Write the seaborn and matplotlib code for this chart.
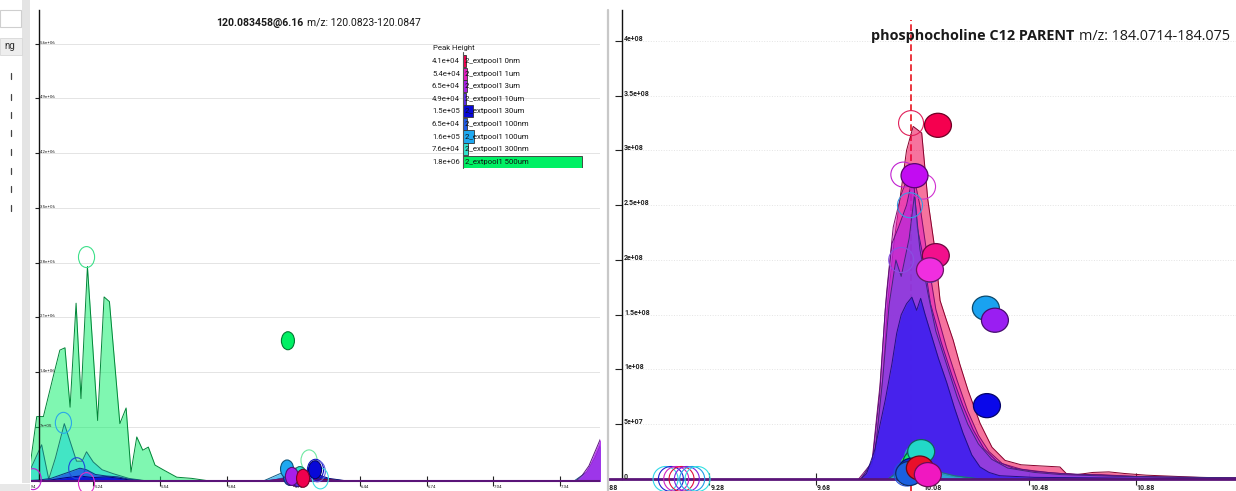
import matplotlib
matplotlib.use("Agg")
import numpy as np
import pandas as pd
import matplotlib.pyplot as plt
import seaborn as sns
from matplotlib.path import Path
from matplotlib.transforms import Affine2D, offset_copy
from matplotlib.patches import Rectangle
from matplotlib.lines import Line2D
from matplotlib import colors as mcolors
from matplotlib import font_manager as fm

# ---------------- samples ----------------
samples = ["2_extpool1 0nm", "2_extpool1 1um", "2_extpool1 3um", "2_extpool1 10um",
           "2_extpool1 30um", "2_extpool1 100nm", "2_extpool1 100um",
           "2_extpool1 300nm", "2_extpool1 500um"]
sample_colors = ["#f0004e", "#e21cc0", "#a81ee8", "#5a2ae6", "#0808d8",
                 "#1e5ae6", "#1ea8f0", "#2ee0cc", "#00f064"]

# ---------------- left panel: 120.083458@6.16 ----------------
left_title_bold = "120.083458@6.16"
left_title_rest = "m/z: 120.0823-120.0847"
left_peak_height = [4.1e4, 5.4e4, 6.5e4, 4.9e4, 1.5e5, 6.5e4, 1.6e5, 7.6e4, 1.8e6]
left_peak_rt = [6.184, 6.150, 6.134, 6.160, 6.238, 6.125, 6.112, 6.170, 6.116]
left_xticks = [4.94, 5.24, 5.54, 5.84, 6.14, 6.44, 6.74, 7.04, 7.34]
left_yticks = [7e5, 1.4e6, 2.1e6, 2.8e6, 3.5e6, 4.2e6, 4.9e6, 5.6e6]

# extracted ion traces (retention time, intensity)
l_500um_t = [4.94, 4.955, 4.986, 5.016, 5.06, 5.09, 5.113, 5.136, 5.163, 5.185, 5.214,
             5.26, 5.289, 5.313, 5.36, 5.388, 5.41, 5.436, 5.463, 5.488, 5.518, 5.555,
             5.616, 5.683, 5.78, 5.95, 6.05, 6.12, 6.2, 6.3, 6.4, 7.53]
l_500um_v = [0.10e6, 0.18e6, 0.83e6, 0.83e6, 1.34e6, 1.68e6, 1.71e6, 0.95e6, 2.28e6,
             1.06e6, 2.75e6, 0.78e6, 2.36e6, 2.30e6, 0.74e6, 0.94e6, 0.12e6, 0.57e6,
             0.40e6, 0.44e6, 0.21e6, 0.15e6, 0.055e6, 0.04e6, 0.0, 0.0, 0.02e6,
             0.05e6, 0.06e6, 0.02e6, 0.0, 0.0]
l_300nm_t = [4.94, 4.96, 5.008, 5.04, 5.07, 5.11, 5.165, 5.19, 5.21, 5.24, 5.28, 5.33,
             5.40, 5.50, 6.05, 6.15, 6.22, 6.3, 6.4, 7.53]
l_300nm_v = [0.10e6, 0.17e6, 0.47e6, 0.03e6, 0.30e6, 0.74e6, 0.26e6, 0.26e6, 0.38e6,
             0.25e6, 0.15e6, 0.10e6, 0.04e6, 0.0, 0.0, 0.05e6, 0.07e6, 0.03e6, 0.0, 0.0]
l_100nm_t = [4.94, 5.0, 5.05, 5.1, 5.15, 5.18, 5.21, 5.25, 5.3, 5.35, 5.4, 5.5, 6.02,
             6.1, 6.13, 6.2, 6.3, 6.4, 7.53]
l_100nm_v = [0.01e6, 0.02e6, 0.04e6, 0.09e6, 0.14e6, 0.17e6, 0.15e6, 0.09e6, 0.07e6,
             0.06e6, 0.03e6, 0.0, 0.0, 0.05e6, 0.06e6, 0.04e6, 0.01e6, 0.0, 0.0]
l_30um_t = [4.94, 5.05, 5.12, 5.18, 5.24, 5.3, 5.36, 5.42, 5.5, 6.05, 6.15, 6.24,
            6.3, 6.4, 7.53]
l_30um_v = [0.0, 0.02e6, 0.05e6, 0.07e6, 0.05e6, 0.06e6, 0.04e6, 0.01e6, 0.0, 0.0,
            0.06e6, 0.10e6, 0.04e6, 0.0, 0.0]
l_100um_t = [4.94, 6.0, 6.08, 6.11, 6.18, 6.28, 6.4, 7.40, 7.46, 7.50, 7.53]
l_100um_v = [0.0, 0.0, 0.10e6, 0.14e6, 0.08e6, 0.03e6, 0.0, 0.0, 0.12e6, 0.32e6, 0.52e6]
l_3um_t = [4.94, 6.0, 6.1, 6.13, 6.2, 6.3, 6.4, 7.41, 7.44, 7.47, 7.50, 7.53]
l_3um_v = [0.0, 0.0, 0.04e6, 0.06e6, 0.05e6, 0.02e6, 0.0, 0.0, 0.08e6, 0.20e6,
           0.40e6, 0.60e6]
l_10um_t = [4.94, 6.02, 6.12, 6.17, 6.25, 6.35, 7.53]
l_10um_v = [0.0, 0.0, 0.03e6, 0.05e6, 0.03e6, 0.0, 0.0]
l_1um_t = [4.94, 6.0, 6.08, 6.15, 6.22, 6.3, 6.4, 7.53]
l_1um_v = [0.0, 0.0, 0.03e6, 0.05e6, 0.04e6, 0.02e6, 0.0, 0.0]
l_0nm_t = [4.94, 6.0, 6.1, 6.18, 6.25, 6.35, 6.45, 7.53]
l_0nm_v = [0.0, 0.0, 0.02e6, 0.04e6, 0.03e6, 0.01e6, 0.0, 0.0]

# apex circles of the raw traces
left_apex_rt = [5.21, 5.106, 5.166, 4.97, 5.21, 6.211, 6.240, 6.248, 6.262]
left_apex_val = [2.87e6, 0.75e6, 0.17e6, 0.03e6, -0.02e6, 0.27e6, 0.15e6, 0.13e6, 0.04e6]
left_apex_col = ["#3ee08a", "#2aa8e8", "#1e4ad8", "#c020d0", "#e030c8", "#6ee8a0",
                 "#1010c0", "#6060e0", "#40e0e0"]

# ---------------- right panel: phosphocholine C12 ----------------
right_title_bold = "phosphocholine C12 PARENT"
right_title_rest = "m/z: 184.0714-184.075"
right_target_rt = 10.037
right_xticks = [8.88, 9.28, 9.68, 10.08, 10.48, 10.88]
right_yticks = [0, 5e7, 1e8, 1.5e8, 2e8, 2.5e8, 3e8, 3.5e8, 4e8]
right_trace_colors = ["#f0004e", "#e21cc0", "#a81ee8", "#7048e6", "#3a1ef0",
                      "#1e5ae6", "#2ee0cc"]

r_0nm_t = [9.86, 9.90, 9.93, 9.95, 9.975, 9.995, 10.02, 10.045, 10.077, 10.10, 10.127,
           10.146, 10.17, 10.195, 10.22, 10.251, 10.296, 10.341, 10.39, 10.45, 10.52,
           10.596, 10.62, 10.66, 10.72, 10.78, 10.84, 10.92, 11.02, 11.12, 11.26]
r_0nm_v = [0.0, 0.2e8, 0.9e8, 1.63e8, 2.2e8, 2.55e8, 3.0e8, 3.22e8, 3.16e8, 2.55e8,
           2.09e8, 1.63e8, 1.45e8, 1.27e8, 1.05e8, 0.81e8, 0.51e8, 0.29e8, 0.17e8,
           0.13e8, 0.12e8, 0.11e8, 0.05e8, 0.04e8, 0.06e8, 0.065e8, 0.05e8, 0.035e8,
           0.025e8, 0.015e8, 0.01e8]
r_1um_t = [9.84, 9.89, 9.92, 9.945, 9.97, 10.0, 10.04, 10.07, 10.10, 10.13, 10.17,
           10.21, 10.25, 10.29, 10.33, 10.38, 10.45, 10.55, 10.65, 10.75, 10.9, 11.26]
r_1um_v = [0.0, 0.15e8, 0.85e8, 1.7e8, 2.3e8, 2.6e8, 2.85e8, 2.5e8, 2.0e8, 1.55e8,
           1.2e8, 0.9e8, 0.62e8, 0.4e8, 0.25e8, 0.14e8, 0.09e8, 0.06e8, 0.04e8,
           0.04e8, 0.02e8, 0.01e8]
r_3um_t = [9.845, 9.89, 9.92, 9.94, 9.965, 9.99, 10.02, 10.045, 10.06, 10.085, 10.11,
           10.15, 10.19, 10.23, 10.27, 10.31, 10.36, 10.42, 10.5, 10.6, 10.7, 10.8,
           11.0, 11.26]
r_3um_v = [0.0, 0.12e8, 0.8e8, 1.55e8, 2.15e8, 2.3e8, 2.5e8, 2.78e8, 2.3e8, 2.0e8,
           1.6e8, 1.25e8, 0.95e8, 0.68e8, 0.45e8, 0.28e8, 0.16e8, 0.1e8, 0.07e8,
           0.05e8, 0.04e8, 0.03e8, 0.015e8, 0.01e8]
r_10um_t = [9.85, 9.90, 9.93, 9.955, 9.98, 10.0, 10.03, 10.05, 10.07, 10.10, 10.13,
            10.17, 10.21, 10.25, 10.29, 10.34, 10.40, 10.5, 10.6, 10.8, 11.26]
r_10um_v = [0.0, 0.2e8, 0.9e8, 1.6e8, 2.0e8, 1.85e8, 2.2e8, 2.6e8, 2.1e8, 1.7e8,
            1.35e8, 1.05e8, 0.75e8, 0.5e8, 0.32e8, 0.18e8, 0.1e8, 0.06e8, 0.04e8,
            0.025e8, 0.01e8]
r_30um_t = [9.85, 9.87, 9.90, 9.94, 9.965, 9.983, 10.0, 10.02, 10.04, 10.058, 10.073,
            10.09, 10.115, 10.14, 10.171, 10.2, 10.232, 10.265, 10.296, 10.33, 10.37,
            10.5, 11.26]
r_30um_v = [0.0, 0.05e8, 0.26e8, 0.72e8, 1.05e8, 1.33e8, 1.5e8, 1.6e8, 1.66e8, 1.54e8,
            1.65e8, 1.5e8, 1.3e8, 1.1e8, 0.88e8, 0.65e8, 0.42e8, 0.22e8, 0.11e8,
            0.06e8, 0.03e8, 0.015e8, 0.0]
r_small_t = [9.95, 10.0, 10.05, 10.1, 10.2, 10.3]
r_100nm_v = [0.0, 0.06e8, 0.10e8, 0.07e8, 0.02e8, 0.0]
r_300nm_v = [0.0, 0.09e8, 0.14e8, 0.09e8, 0.03e8, 0.0]

# quantified peaks (filled) and trace apexes (open)
right_peak_rt = [10.138, 10.05, 10.13, 10.108, 10.318, 10.352, 10.322,
                 10.058, 10.075, 10.04, 10.03, 10.07, 10.10]
right_peak_val = [3.23e8, 2.77e8, 2.04e8, 1.91e8, 1.56e8, 1.45e8, 0.67e8,
                  0.155e8, 0.25e8, 0.08e8, 0.05e8, 0.10e8, 0.04e8]
right_peak_col = ["#f5004f", "#c20cf2", "#f2108c", "#f02ee0", "#1aa2f0", "#9a1ef2",
                  "#0a08ea", "#10f070", "#22d8c8", "#0a2ae0", "#1a60e0", "#e8102a",
                  "#f018c0"]
right_apex_rt = [10.037, 10.008, 10.082, 10.033, 10.0, 10.108, 10.06, 10.045, 10.02,
                 9.115, 9.135, 9.155, 9.175, 9.195, 9.215, 9.235]
right_apex_val = [3.25e8, 2.78e8, 2.67e8, 2.5e8, 2.0e8, 1.91e8, 0.2e8, 0.12e8, 0.05e8,
                  0.0, 0.0, 0.0, 0.0, 0.0, 0.0, 0.0]
right_apex_col = ["#e0205a", "#c020d0", "#d030d0", "#3a9ae0", "#8a50e0", "#4a50d0",
                  "#20c0b0", "#30e070", "#2050e0",
                  "#30d8e8", "#2020d0", "#d020c0", "#e01040", "#8020e0", "#20a0e8",
                  "#30e0e0"]

# ---------------- layout (pixels) ----------------
W, H = 1236, 491
L_BOX = (31, 10, 600, 491)
R_BOX = (608, 10, 1236, 491)
L_XLIM, L_YLIM = (4.9602, 7.5198), (-0.1215e6, 6.029e6)
R_XLIM, R_YLIM = (8.8988, 11.2574), (-10.96e6, 428.3e6)
L_AXIS_RT = 4.996
R_AXIS_RT = 8.9514

sns.set_theme(style="white")
installed = {f.name for f in fm.fontManager.ttflist}
NARROW = "Liberation Sans Narrow" if "Liberation Sans Narrow" in installed else "Roboto"
plt.rcParams["font.family"] = ["Roboto", "DejaVu Sans"]

fig = plt.figure(figsize=(W / 100, H / 100), dpi=100)
fig.patch.set_facecolor("white")


def rect(x0, y0, x1, y1):
    return [x0 / W, 1 - y1 / H, (x1 - x0) / W, (y1 - y0) / H]


def darken(c, f=0.45):
    r, g, b = mcolors.to_rgb(c)
    return (r * (1 - f), g * (1 - f), b * (1 - f))


def ellipse(sx, sy):
    return Path.unit_circle().transformed(Affine2D().scale(sx, sy))


def px(ax, dx=0, dy=0):
    return offset_copy(ax.transData, fig=fig, x=dx, y=dy, units="dots")


def trace(ax, t, v, color, alpha, z):
    ax.fill_between(t, 0, v, color=color, alpha=alpha, lw=0, zorder=z)
    sns.lineplot(x=t, y=v, ax=ax, color=darken(color), lw=0.7, sort=False,
                 estimator=None, zorder=z + 0.1)


def frame(ax, xlim, ylim, axis_rt, xticks, yticks, show_zero, tick_font, grid_style,
          xtick_len, ytick_len, lab_dx, lab_dy):
    ax.patch.set_alpha(0)
    for s in ("top", "right"):
        ax.spines[s].set_visible(False)
    ax.spines["left"].set_position(("data", axis_rt))
    ax.spines["left"].set_bounds(0, ylim[1])
    ax.spines["left"].set_color("#111111")
    ax.spines["left"].set_linewidth(1.0)
    ax.spines["bottom"].set_position(("data", 0))
    ax.spines["bottom"].set_visible(False)
    ax.set_xticks(xticks)
    ax.set_yticks(yticks)
    # limits after the ticks so ticks outside the window do not widen it
    ax.set_xlim(*xlim)
    ax.set_ylim(*ylim)
    ax.tick_params(axis="x", direction="inout", length=xtick_len, width=0.8,
                   color="#222222", labelbottom=False, bottom=True)
    ax.tick_params(axis="y", direction="out", length=ytick_len, width=0.8,
                   color="#222222", labelleft=False, left=True)
    ax.set_xlabel("")
    ax.set_ylabel("")
    ax.hlines([y for y in yticks if y > 0], axis_rt, xlim[1], colors="#e4e4e4",
              lw=0.7, linestyles=grid_style, zorder=0.5)
    for y in yticks:
        if y == 0 and not show_zero:
            continue
        ax.text(axis_rt, y, "0" if y == 0 else f"{y:.2g}", transform=px(ax, lab_dx, 0),
                ha="left", va="baseline", fontsize=tick_font[0],
                fontweight=tick_font[1], color="#222222", zorder=9)
    for x in xticks:
        ax.text(x, 0, f"{x:.2f}", transform=px(ax, 1, lab_dy), ha="left", va="top",
                fontsize=tick_font[0], fontweight=tick_font[1], color="#222222",
                clip_on=True, zorder=3)


# ---------------- window chrome ----------------
fig.patches.append(Rectangle((22 / W, 1 - 483 / H), 8 / W, 483 / H, transform=fig.transFigure,
                             facecolor="#e4e4e4", edgecolor="none", zorder=0))
fig.patches.append(Rectangle((0, 0), 30 / W, 7 / H, transform=fig.transFigure,
                             facecolor="#e8e8e8", edgecolor="none", zorder=0))
fig.patches.append(Rectangle((0, 1 - 27 / H), 21 / W, 17 / H, transform=fig.transFigure,
                             facecolor="white", edgecolor="#cfcfcf", lw=0.8, zorder=1))
fig.patches.append(Rectangle((0, 1 - 55 / H), 22 / W, 17 / H, transform=fig.transFigure,
                             facecolor="#eeeeee", edgecolor="#d8d8d8", lw=0.6, zorder=1))
fig.text(4 / W, 1 - 46 / H, "ng", fontsize=7, va="center", ha="left", color="#333333")
for yy in [76, 97, 115, 133, 152, 171, 189, 208]:
    fig.lines.append(Line2D([11 / W, 11 / W], [1 - (yy - 3) / H, 1 - (yy + 3) / H],
                            transform=fig.transFigure, color="#444444", lw=0.9))
fig.lines.append(Line2D([607.5 / W, 607.5 / W], [0, 1 - 10 / H], transform=fig.transFigure,
                        color="#c8c8c8", lw=1.6))

# ---------------- left panel ----------------
axL = fig.add_axes(rect(*L_BOX))
frame(axL, L_XLIM, L_YLIM, L_AXIS_RT, left_xticks, left_yticks, False, (3.2, "normal"),
      "-", 6.5, 3.0, 1, -4)
left_traces = [(l_500um_t, l_500um_v, 8, 0.5), (l_300nm_t, l_300nm_v, 7, 0.75),
               (l_100nm_t, l_100nm_v, 5, 0.85), (l_30um_t, l_30um_v, 4, 0.85),
               (l_100um_t, l_100um_v, 6, 0.7), (l_3um_t, l_3um_v, 2, 0.85),
               (l_10um_t, l_10um_v, 3, 0.7), (l_1um_t, l_1um_v, 1, 0.7),
               (l_0nm_t, l_0nm_v, 0, 0.7)]
for z, (t, v, k, a) in enumerate(left_traces):
    trace(axL, t, v, sample_colors[k], a, 2 + z * 0.2)
axL.axhline(0, color="#5a1478", lw=1.5, zorder=4)
axL.scatter(left_apex_rt, left_apex_val, s=228, marker=ellipse(1, 1.3),
            facecolors="none", edgecolors=left_apex_col, linewidths=0.8, zorder=5)
order = [8, 1, 3, 5, 7, 6, 4, 2, 0]
axL.scatter([left_peak_rt[i] for i in order], [left_peak_height[i] for i in order],
            s=168, marker=ellipse(1, 1.38), c=[sample_colors[i] for i in order],
            edgecolors=[darken(sample_colors[i], 0.5) for i in order], linewidths=0.8,
            zorder=6)

# peak-height legend
axLeg = fig.add_axes(rect(463, 54.7, 600, 168))
sns.barplot(x=left_peak_height, y=samples, hue=samples, palette=sample_colors,
            orient="h", width=0.96, edgecolor="#333333", linewidth=0.6, legend=False,
            dodge=False, saturation=1, ax=axLeg)
axLeg.set_xlim(0, 1.8e6 * 137 / 119)
axLeg.axis("off")
axLeg.axvline(0, color="#555555", lw=0.8, ymin=0, ymax=1.02, clip_on=False)
for i, (s, h) in enumerate(zip(samples, left_peak_height)):
    axLeg.text(0, i, f"{h:.1e}", transform=px(axLeg, -3, 0), ha="right", va="center",
               fontsize=5.6, family=[NARROW, "DejaVu Sans"], color="#222222")
    axLeg.text(0, i, s, transform=px(axLeg, 2, 0), ha="left", va="center",
               fontsize=5.6, family=[NARROW, "DejaVu Sans"], color="#111111")
fig.text(433 / W, 1 - 48 / H, "Peak Height", fontsize=5.6, family=[NARROW, "DejaVu Sans"],
         ha="left", va="center", color="#222222")

fig.text(303 / W, 1 - 22.5 / H, left_title_bold, fontsize=7.6, fontweight="bold",
         ha="right", va="center", color="#1a1a1a")
fig.text(307 / W, 1 - 22.5 / H, left_title_rest, fontsize=7.5, ha="left", va="center",
         color="#1a1a1a")

# ---------------- right panel ----------------
axR = fig.add_axes(rect(*R_BOX))
frame(axR, R_XLIM, R_YLIM, R_AXIS_RT, right_xticks, right_yticks, True, (5.0, "semibold"),
      ":", 8.0, 5.0, 2, -5)
axR.axvline(right_target_rt, ymin=0, ymax=(4.19e8 - R_YLIM[0]) / (R_YLIM[1] - R_YLIM[0]),
            color="#e8141e", lw=1.2, ls=(0, (4, 2)), zorder=1.5)
right_traces = [(r_0nm_t, r_0nm_v, 0.55), (r_1um_t, r_1um_v, 0.55),
                (r_3um_t, r_3um_v, 0.55), (r_10um_t, r_10um_v, 0.6),
                (r_30um_t, r_30um_v, 0.85), (r_small_t, r_100nm_v, 0.6),
                (r_small_t, r_300nm_v, 0.6)]
for z, ((t, v, a), col) in enumerate(zip(right_traces, right_trace_colors)):
    trace(axR, t, v, col, a, 2 + z * 0.2)
axR.axhline(0, color="#5a1478", lw=2.0, zorder=4)
axR.scatter(right_apex_rt, right_apex_val, s=324, marker="o", facecolors="none",
            edgecolors=right_apex_col, linewidths=0.8, zorder=5)
axR.scatter(right_peak_rt, right_peak_val, s=377, marker=ellipse(1.12, 1),
            c=right_peak_col, edgecolors=[darken(c, 0.55) for c in right_peak_col],
            linewidths=0.9, zorder=6)

fig.text(1074 / W, 1 - 36 / H, right_title_bold, fontsize=10.4, fontweight="bold",
         family=["Open Sans", "DejaVu Sans"], ha="right", va="center", color="#1a1a1a")
fig.text(1079 / W, 1 - 36 / H, right_title_rest, fontsize=10.4,
         family=["Open Sans", "DejaVu Sans"], ha="left", va="center", color="#1a1a1a")

fig.savefig("out.png", dpi=100)
